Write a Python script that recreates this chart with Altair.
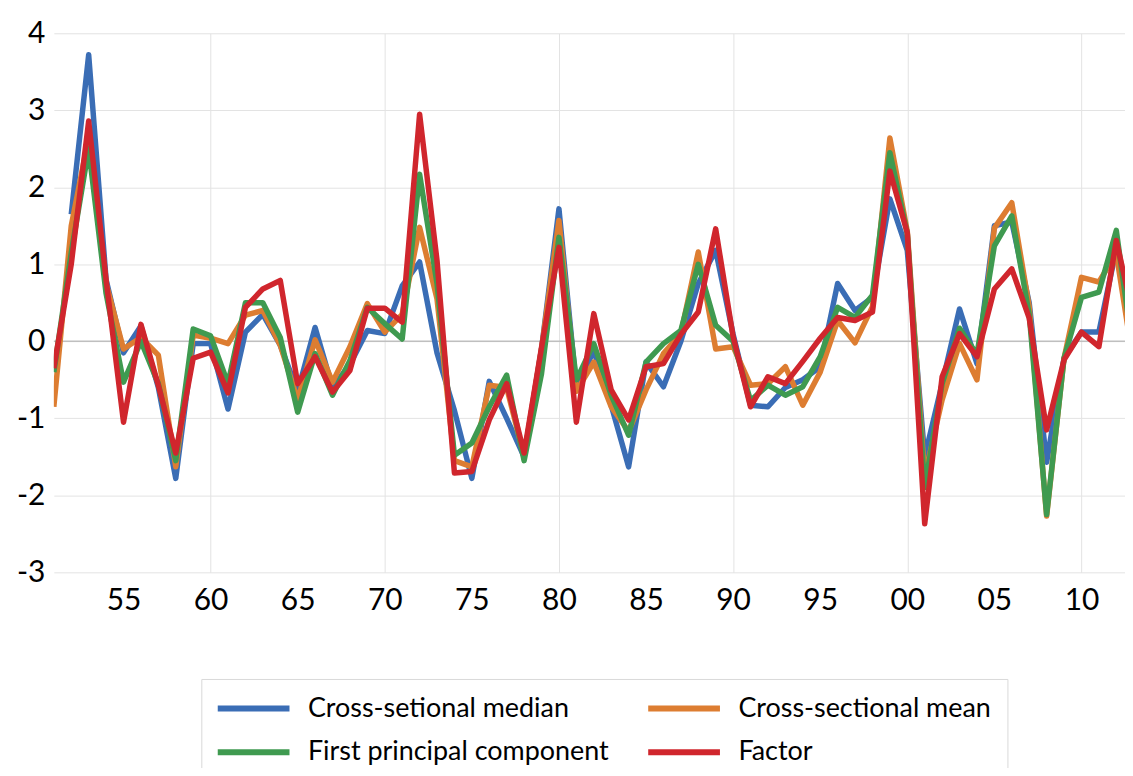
import altair as alt
import pandas as pd

FONT = "Lato"

years = list(range(1951, 2014))

median = [None, 1.65, 3.72, 0.80, -0.15, 0.20, -0.60, -1.78, -0.03, -0.03,
          -0.88, 0.12, 0.35, -0.05, -0.65, 0.18, -0.60, -0.30, 0.14, 0.10,
          0.72, 1.03, -0.15, -0.90, -1.78, -0.52, -1.00, -1.50, -0.10, 1.72,
          -0.60, -0.12, -0.83, -1.63, -0.27, -0.59, 0.00, 0.75, 1.18, 0.09,
          -0.83, -0.85, -0.60, -0.50, -0.33, 0.75, 0.40, 0.57, 1.85, 1.18,
          -1.50, -0.55, 0.42, -0.29, 1.50, 1.55, 0.50, -1.57, -0.22, 0.12,
          0.12, 1.20, 0.20]

mean = [-0.85, 1.50, 2.65, 0.75, -0.10, 0.05, -0.18, -1.63, 0.08, 0.04,
        -0.03, 0.34, 0.40, -0.05, -0.76, 0.02, -0.53, -0.07, 0.49, 0.12,
        0.35, 1.48, 0.55, -1.55, -1.63, -0.57, -0.60, -1.50, -0.10, 1.57,
        -0.65, -0.27, -0.85, -1.17, -0.63, -0.16, 0.10, 1.16, -0.10, -0.07,
        -0.57, -0.55, -0.33, -0.83, -0.40, 0.27, -0.02, 0.45, 2.64, 1.43,
        -1.75, -0.76, -0.03, -0.50, 1.47, 1.80, 0.45, -2.27, -0.22, 0.83,
        0.77, 1.14, -0.30]

pc1 = [-0.40, 1.15, 2.50, 0.62, -0.53, 0.00, -0.55, -1.55, 0.16, 0.07,
       -0.55, 0.50, 0.50, 0.05, -0.92, -0.16, -0.70, -0.25, 0.44, 0.23,
       0.03, 2.17, 0.75, -1.48, -1.32, -0.85, -0.44, -1.55, -0.42, 1.35,
       -0.50, -0.03, -0.70, -1.22, -0.27, -0.03, 0.14, 1.00, 0.21, 0.00,
       -0.77, -0.57, -0.70, -0.59, -0.20, 0.44, 0.31, 0.60, 2.45, 1.40,
       -1.90, -0.55, 0.17, -0.17, 1.24, 1.63, 0.35, -2.25, -0.22, 0.57,
       0.64, 1.44, -0.20]

factor = [-0.35, 1.00, 2.86, 0.80, -1.05, 0.22, -0.57, -1.45, -0.22, -0.14,
          -0.67, 0.44, 0.68, 0.79, -0.55, -0.20, -0.66, -0.38, 0.43, 0.43,
          0.25, 2.95, 1.05, -1.71, -1.69, -1.02, -0.55, -1.45, -0.08, 1.22,
          -1.05, 0.36, -0.63, -1.02, -0.33, -0.29, 0.09, 0.38, 1.46, 0.06,
          -0.85, -0.46, -0.55, -0.26, 0.04, 0.31, 0.27, 0.38, 2.21, 1.41,
          -2.37, -0.46, 0.10, -0.20, 0.68, 0.94, 0.30, -1.15, -0.24, 0.12,
          -0.07, 1.31, 0.30]

names = ["Cross-setional median", "Cross-sectional mean",
         "First principal component", "Factor"]
colors = ["#3A6DB5", "#DD7D31", "#3F9A50", "#D0262D"]

x_ticks = list(range(1955, 2011, 5))
y_ticks = list(range(-3, 5))

frames = []
for n, vals in zip(names, [median, mean, pc1, factor]):
    frames.append(pd.DataFrame({"year": years, "value": vals, "series": n}))
df = pd.concat(frames, ignore_index=True)

xs = alt.Scale(domain=[1951, 2012.5], nice=False, zero=False)
ys = alt.Scale(domain=[-3, 4], nice=False, zero=False)

x_axis = alt.Axis(
    values=x_ticks,
    labelExpr="slice(toString(datum.value), 2)",
    title=None, domain=False, ticks=False,
    labelFont=FONT, labelFontSize=30, labelColor="#000000",
    labelPadding=13, labelFlush=False,
    grid=True, gridColor="#e3e3e3", gridWidth=1,
    gridOpacity={"condition": {"test": "datum.value % 10 === 0", "value": 1}, "value": 0},
)
y_axis = alt.Axis(
    values=y_ticks,
    labelExpr="toString(datum.value)",
    title=None, domain=False, ticks=False,
    labelFont=FONT, labelFontSize=30, labelColor="#000000",
    labelPadding=9,
    grid=True, gridColor="#e3e3e3", gridWidth=1,
)

legend = alt.Legend(
    title=None, orient="none", legendX=148, legendY=648,
    direction="horizontal", columns=2,
    symbolType="M-3.6,0H3.6", symbolSize=400, symbolStrokeWidth=6,
    symbolOffset=23, labelOffset=41,
    labelFont=FONT, labelFontSize=27, labelColor="#000000", labelLimit=600,
    strokeColor="#d9d9d9", padding=16, rowPadding=16, columnPadding=27,
)

zero_rule = alt.Chart(pd.DataFrame({"z": [0]})).mark_rule(
    color="#bfbfbf", strokeWidth=1.5
).encode(y=alt.Y("z:Q", scale=ys, axis=y_axis))

layers = [zero_rule]
for n in names:
    layers.append(
        alt.Chart(df).transform_filter(alt.datum.series == n)
        .mark_line(strokeWidth=5.5, clip=True, strokeJoin="round")
        .encode(
            x=alt.X("year:Q", scale=xs, axis=x_axis),
            y=alt.Y("value:Q", scale=ys, axis=y_axis),
            color=alt.Color("series:N", scale=alt.Scale(domain=names, range=colors),
                            legend=legend),
        )
    )

chart = alt.layer(*layers).properties(
    width=1075, height=541,
    autosize=alt.AutoSizeParams(type="none"),
    padding={"left": 46, "top": 24, "right": 0, "bottom": 195},
    background="white",
).configure_view(stroke=None)

chart.save("out.html", embed_options={"renderer": "svg", "actions": False})
